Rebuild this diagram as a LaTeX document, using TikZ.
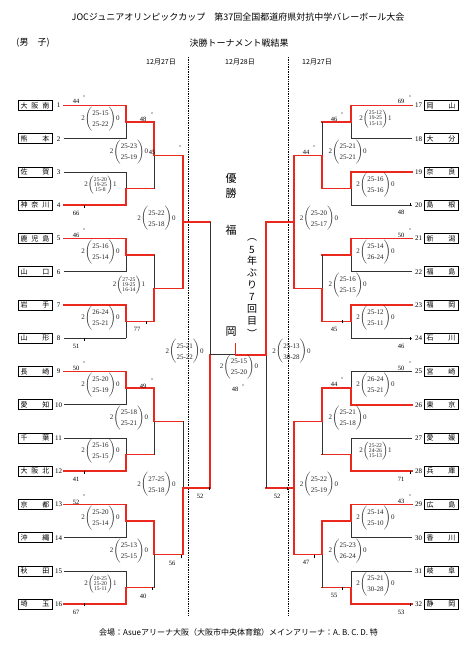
\documentclass[tikz,border=0pt]{standalone}
\usepackage{fontspec}
\setmainfont{Liberation Serif}
\newfontfamily\jp{Noto Sans CJK JP}
\definecolor{wred}{RGB}{235,40,30}
\definecolor{lk}{RGB}{50,50,50}
\newcommand\scoreb[4]{#1$\left(\vcenter{\hrule height 15pt width 0pt}\hbox{#2\begin{tabular}{@{}c@{}}#3\end{tabular}}\right)$#4}
\newcommand\stwo[3]{\scoreb{2}{\fontsize{7}{11}\selectfont}{#1\\#2}{#3}}
\newcommand\sthree[4]{\scoreb{2}{\fontsize{5.6}{4.8}\selectfont}{#1\\#2\\#3}{#4}}
\newcommand\bmatch[5]{%
 \draw[#4] (#2) -- (#2 -| #3);
 \draw[#5] (#2 -| #3) -- (#3);
 \draw[win] (#1) -- (#1 -| #3) -- (#3);
}
\tikzset{
 win/.style={draw=wred, line width=1.7pt, line cap=rect, line join=miter},
 lose/.style={draw=lk, line width=0.8pt},
 tbox/.style={draw=black, line width=1pt, minimum width=34pt, minimum height=10pt, inner sep=0pt, font=\jp\fontsize{7}{7}\selectfont},
 tnum/.style={font=\fontsize{7}{7}\selectfont, inner sep=0pt},
 lab/.style={font=\fontsize{6.5}{6.5}\selectfont, inner sep=0pt},
 score/.style={font=\fontsize{7}{7}\selectfont, inner sep=0pt, text=black!85},
 dotl/.style={draw=black, line width=0.8pt, dash pattern=on 0.8pt off 0.9pt},
 ctext/.style={font=\jp\fontsize{11}{11}\selectfont, inner sep=0pt},
 vtext/.style={font=\jp\fontsize{10}{10}\selectfont, inner sep=0pt},
 head/.style={font=\jp\fontsize{9}{9}\selectfont, inner sep=0pt},
 datet/.style={font=\jp\fontsize{7}{7}\selectfont, inner sep=0pt},
}
\begin{document}
\begin{tikzpicture}[x=1pt,y=-1pt]
\useasboundingbox (0,0) rectangle (474,646);
\fill[white] (0,0) rectangle (474,646);
% headings
\node[head] (title) at (238,17) {JOCジュニアオリンピックカップ　第37回全国都道府県対抗中学バレーボール大会};
\node[head] (sex) at (33,43) {(男　子)};
\node[head] (sub) at (239,43) {決勝トーナメント戦結果};
\node[datet] (dt1) at (161,62) {12月27日};
\node[datet] (dt2) at (240,62) {12月28日};
\node[datet] (dt3) at (317,62) {12月27日};
\coordinate (dl1) at (188,57); \coordinate (dl2) at (188,615);
\coordinate (dr1) at (288,57); \coordinate (dr2) at (288,615);
\draw[dotl] (dl1) -- (dl2);
\draw[dotl] (dr1) -- (dr2);
\node[font=\jp\fontsize{8}{8}\selectfont, inner sep=0pt] (venue) at (238.5,632) {会場：Asueアリーナ大阪（大阪市中央体育館）メインアリーナ：A. B. C. D. 特};
% teams
\foreach \i/\n in {1/大\hfill 阪\hfill 南,2/熊\hfill 本,3/佐\hfill 賀,4/神\hfill 奈\hfill 川,5/鹿\hfill 児\hfill 島,6/山\hfill 口,7/岩\hfill 手,8/山\hfill 形,9/長\hfill 崎,10/愛\hfill 知,11/千\hfill 葉,12/大\hfill 阪\hfill 北,13/京\hfill 都,14/沖\hfill 縄,15/秋\hfill 田,16/埼\hfill 玉}{
 \pgfmathsetmacro\yy{105.5+(\i-1)*33.25}
 \node[tbox] (tL\i) at (35,\yy) {\hbox to 29pt{\n}};
 \node[tnum] (nL\i) at (58.5,\yy) {\i};
 \coordinate (L\i) at (64,\yy);
}
\foreach \i/\n in {17/岡\hfill 山,18/大\hfill 分,19/奈\hfill 良,20/島\hfill 根,21/新\hfill 潟,22/福\hfill 島,23/福\hfill 岡,24/石\hfill 川,25/宮\hfill 崎,26/東\hfill 京,27/愛\hfill 媛,28/兵\hfill 庫,29/広\hfill 島,30/香\hfill 川,31/岐\hfill 阜,32/静\hfill 岡}{
 \pgfmathsetmacro\yy{105.5+(\i-17)*33.25}
 \node[tbox] (tR\i) at (441,\yy) {\hbox to 29pt{\n}};
 \node[tnum] (nR\i) at (418.5,\yy) {\i};
 \coordinate (R\i) at (412,\yy);
}
% junctions
\foreach \k in {1,...,8}{
 \pgfmathsetmacro\yy{122.125+(\k-1)*66.5}
 \coordinate (a\k) at (126,\yy); \coordinate (e\k) at (351,\yy);
}
\foreach \k in {1,...,4}{
 \pgfmathsetmacro\yy{155.375+(\k-1)*133}
 \coordinate (b\k) at (154,\yy); \coordinate (f\k) at (322,\yy);
}
\coordinate (c1) at (183,221.875); \coordinate (c2) at (183,487.875);
\coordinate (g1) at (294,221.875); \coordinate (g2) at (294,487.875);
\coordinate (d1) at (210,354.875); \coordinate (h1) at (266,354.875);
\coordinate (fin) at (235.5,354.875); \coordinate (champ) at (235.5,344);
% left bracket
\bmatch{L1}{L2}{a1}{lose}{lose}
\bmatch{L4}{L3}{a2}{lose}{lose}
\bmatch{L5}{L6}{a3}{lose}{lose}
\bmatch{L7}{L8}{a4}{lose}{lose}
\bmatch{L9}{L10}{a5}{lose}{lose}
\bmatch{L12}{L11}{a6}{lose}{lose}
\bmatch{L13}{L14}{a7}{lose}{lose}
\bmatch{L16}{L15}{a8}{lose}{lose}
\bmatch{a1}{a2}{b1}{win}{lose}
\bmatch{a4}{a3}{b2}{win}{lose}
\bmatch{a5}{a6}{b3}{win}{lose}
\bmatch{a7}{a8}{b4}{win}{lose}
\bmatch{b1}{b2}{c1}{win}{win}
\bmatch{b4}{b3}{c2}{win}{lose}
\bmatch{c2}{c1}{d1}{win}{lose}
% right bracket
\bmatch{R17}{R18}{e1}{lose}{lose}
\bmatch{R19}{R20}{e2}{lose}{lose}
\bmatch{R21}{R22}{e3}{lose}{lose}
\bmatch{R23}{R24}{e4}{lose}{lose}
\bmatch{R26}{R25}{e5}{lose}{lose}
\bmatch{R28}{R27}{e6}{lose}{lose}
\bmatch{R29}{R30}{e7}{lose}{lose}
\bmatch{R32}{R31}{e8}{lose}{lose}
\bmatch{e2}{e1}{f1}{win}{lose}
\bmatch{e4}{e3}{f2}{win}{lose}
\bmatch{e5}{e6}{f3}{win}{lose}
\bmatch{e7}{e8}{f4}{win}{lose}
\bmatch{f2}{f1}{g1}{win}{win}
\bmatch{f4}{f3}{g2}{win}{win}
\bmatch{g1}{g2}{h1}{win}{lose}
% final
\draw[lose] (d1) -- (fin);
\draw[win] (h1) -- (fin) -- (champ);
% scores left
\node[score] (sa1) at (100.5,118.6) {\stwo{25-15}{25-22}{0}};
\node[score] (sa2) at (100.5,185.1) {\sthree{25-20}{19-25}{15-8}{1}};
\node[score] (sa3) at (100.5,251.6) {\stwo{25-16}{25-14}{0}};
\node[score] (sa4) at (100.5,318.1) {\stwo{26-24}{25-21}{0}};
\node[score] (sa5) at (100.5,384.6) {\stwo{25-20}{25-19}{0}};
\node[score] (sa6) at (100.5,451.1) {\stwo{25-16}{25-15}{0}};
\node[score] (sa7) at (100.5,517.6) {\stwo{25-20}{25-14}{0}};
\node[score] (sa8) at (100.5,584.1) {\sthree{20-25}{25-20}{15-11}{1}};
\node[score] (sb1) at (129,151.9) {\stwo{25-23}{25-19}{0}};
\node[score] (sb2) at (129,284.9) {\sthree{27-25}{19-25}{16-14}{1}};
\node[score] (sb3) at (129,417.9) {\stwo{25-18}{25-21}{0}};
\node[score] (sb4) at (129,550.9) {\stwo{25-13}{25-15}{0}};
\node[score] (sc1) at (156.5,218.4) {\stwo{25-22}{25-18}{0}};
\node[score] (sc2) at (156.5,484.4) {\stwo{27-25}{25-18}{0}};
\node[score] (sd1) at (184.7,351.4) {\stwo{25-21}{25-22}{0}};
% scores right
\node[score] (se1) at (375.5,118.6) {\sthree{25-12}{19-25}{15-13}{1}};
\node[score] (se2) at (375.5,185.1) {\stwo{25-16}{25-16}{0}};
\node[score] (se3) at (375.5,251.6) {\stwo{25-14}{26-24}{0}};
\node[score] (se4) at (375.5,318.1) {\stwo{25-12}{25-11}{0}};
\node[score] (se5) at (375.5,384.6) {\stwo{26-24}{25-21}{0}};
\node[score] (se6) at (375.5,451.1) {\sthree{25-22}{24-26}{15-13}{1}};
\node[score] (se7) at (375.5,517.6) {\stwo{25-14}{25-10}{0}};
\node[score] (se8) at (375.5,584.1) {\stwo{25-21}{30-28}{0}};
\node[score] (sf1) at (347.7,151.9) {\stwo{25-21}{25-21}{0}};
\node[score] (sf2) at (347.7,284.9) {\stwo{25-16}{25-15}{0}};
\node[score] (sf3) at (347.7,417.9) {\stwo{25-21}{25-18}{0}};
\node[score] (sf4) at (347.7,550.9) {\stwo{25-23}{26-24}{0}};
\node[score] (sg1) at (319,218.4) {\stwo{25-20}{25-17}{0}};
\node[score] (sg2) at (319,484.4) {\stwo{25-22}{25-19}{0}};
\node[score] (sh1) at (291.5,351.4) {\stwo{25-13}{30-28}{0}};
\node[score] (sfin) at (239,367) {\stwo{25-15}{25-20}{0}};
% small labels: dots above, ticks below
\foreach \t/\x/\y/\mx/\my [count=\n] in {44/76/101.7/84/96,46/76/235/84/229,50/76/368/84/362,52/76/502/84/495,48/143/119/152/113,49/143/386/152/379,45/152/152.6/180/146,69/401/101.7/410/96,50/401/235/410/229,50/401/368/410/362,43/401/501/410/495,46/334/119/342/113,44/334/384/342/378,44/306/152/314/146,48/235/389/243/385}{
 \node[lab] (la\n) at (\x,\y) {\t};
 \fill[black] (\mx,\my) circle (0.7pt);
}
\foreach \t/\x/\y/\mx/\my [count=\n] in {66/76/213/84/207,51/76/346/84/340,41/76/479/84/473,67/76/612/84/605,77/137/329/146/323,40/143/596/152/589,56/172/563/181/557,52/200/496/209/489,48/401/212/410/205,46/401/346/410/339,71/401/479/410/473,53/401/612/410/605,45/334/329/342/322,55/334/595/342/589,47/306/562/314/557,52/277/496/287/489}{
 \node[lab] (lb\n) at (\x,\y) {\t};
 \draw[black, line width=0.9pt] (\mx,\my-2) -- (\mx,\my+1);
}
% champion text
\node[ctext] (w1) at (231,178) {優};
\node[ctext] (w2) at (231,193) {勝};
\node[ctext] (w3) at (231,230) {福};
\node[ctext] (w4) at (231,332) {岡};
\foreach \c/\y [count=\n] in {︵/240,5/250,年/261,ぶ/273,り/285,7/297,回/309,目/321,︶/333}{
 \node[vtext] (v\n) at (252,\y) {\c};
}
\end{tikzpicture}
\end{document}
